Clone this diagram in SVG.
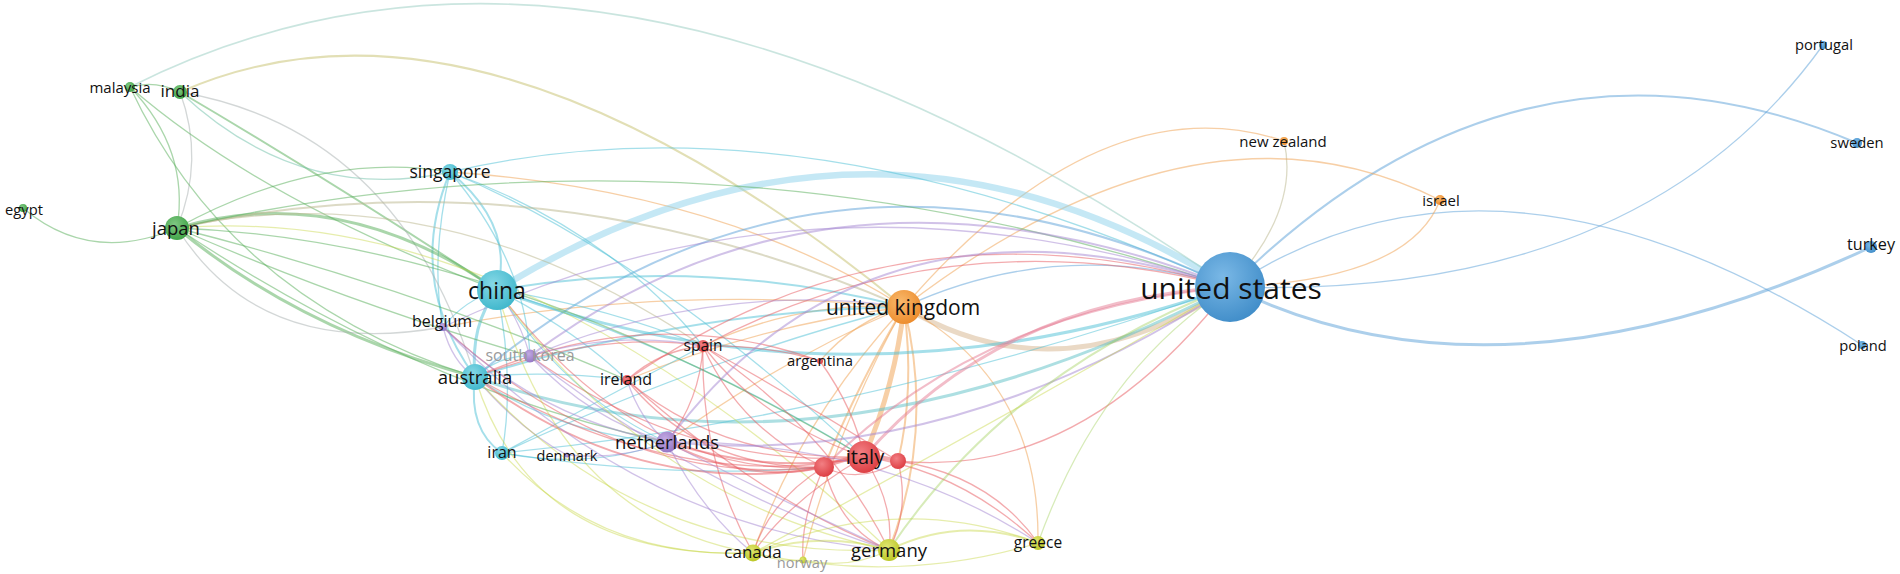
<svg xmlns="http://www.w3.org/2000/svg" width="1900" height="574" viewBox="0 0 1900 574">
<defs>
<radialGradient id="gB" cx="40%" cy="35%" r="70%"><stop offset="0" stop-color="#7ab8e6"/><stop offset="1" stop-color="#3f8cc8"/></radialGradient>
<radialGradient id="gC" cx="40%" cy="35%" r="70%"><stop offset="0" stop-color="#86d8e6"/><stop offset="1" stop-color="#3db6cb"/></radialGradient>
<radialGradient id="gG" cx="40%" cy="35%" r="70%"><stop offset="0" stop-color="#80c783"/><stop offset="1" stop-color="#3da244"/></radialGradient>
<radialGradient id="gO" cx="40%" cy="35%" r="70%"><stop offset="0" stop-color="#f9b96c"/><stop offset="1" stop-color="#ec8a2a"/></radialGradient>
<radialGradient id="gR" cx="40%" cy="35%" r="70%"><stop offset="0" stop-color="#f27f83"/><stop offset="1" stop-color="#dc3b40"/></radialGradient>
<radialGradient id="gP" cx="40%" cy="35%" r="70%"><stop offset="0" stop-color="#c2a9e2"/><stop offset="1" stop-color="#9274c4"/></radialGradient>
<radialGradient id="gY" cx="40%" cy="35%" r="70%"><stop offset="0" stop-color="#e0e670"/><stop offset="1" stop-color="#b9c523"/></radialGradient>
</defs>
<style>
.e{fill:none;stroke-linecap:round;stroke-width:1.3;stroke-opacity:.5}
.b{stroke:#5a9fd8}.c{stroke:#4cbfd6}.g{stroke:#55ad57}.o{stroke:#f0a04e}.r{stroke:#e8575d}.p{stroke:#a386d2}.y{stroke:#c3d43a;stroke-opacity:.42}.t{stroke:#b9b58c}.k{stroke:#a8b0b0}
.w2{stroke-width:2}.w3{stroke-width:3}.w4{stroke-width:4}.w5{stroke-width:5}.w6{stroke-width:6.5}
.l{font-family:"Open Sans","Liberation Sans",sans-serif;fill:#111;text-anchor:middle;dominant-baseline:central}
.f{fill:#9a9a9a}
</style>
<rect width="1900" height="574" fill="#fff"/>
<g id="connectors">
<path class="e b" d="M1230,287 Q1640,300 1823,45"/>
<path class="e b w2" d="M1230,287 Q1520,0 1857,143"/>
<path class="e b" d="M1230,287 Q1500,110 1862,345"/>
<path class="e b w3" d="M1230,287 Q1500,420 1871,247"/>
<path class="e b" d="M904,307 Q1060,235 1230,287"/>
<path class="e o" d="M1230,287 Q1410,280 1440,200"/>
<path class="e t" d="M1230,287 Q1300,210 1284,141"/>
<path class="e o" d="M904,307 Q1100,80 1284,141"/>
<path class="e o" d="M904,307 Q1200,80 1440,200"/>
<path class="e w5" style="stroke:#d6b38c" d="M904,307 Q1060,400 1230,287"/>
<path class="e o w5" d="M904,307 Q895,385 864,457"/>
<path class="e o w2" d="M904,307 Q860,380 824,467"/>
<path class="e o w2" d="M904,307 Q915,390 898,461"/>
<path class="e o w2" d="M904,307 Q935,430 889,550"/>
<path class="e o" d="M904,307 Q800,420 753,553"/>
<path class="e o" d="M904,307 Q1040,380 1038,543"/>
<path class="e o" d="M904,307 Q800,300 703,346"/>
<path class="e o" d="M904,307 Q855,320 820,361"/>
<path class="e o" d="M904,307 Q780,360 667,442"/>
<path class="e o" d="M904,307 Q760,325 627,380"/>
<path class="e o" d="M904,307 Q835,430 803,560"/>
<path class="e o" d="M904,307 Q660,285 443,327"/>
<path class="e o" d="M450,172 Q720,190 904,307"/>
<path class="e w2" style="stroke:#c6bf6c" d="M180,92 Q480,-40 904,307"/>
<path class="e c w6" style="stroke:#8bd2ec" d="M497,290 Q870,60 1230,287"/>
<path class="e c w3" d="M497,290 Q850,420 1230,287"/>
<path class="e c" d="M450,172 Q800,90 1230,287"/>
<path class="e b w2" d="M475,377 Q820,90 1230,287"/>
<path class="e c w3" style="stroke:#5cbfc6" d="M475,377 Q820,500 1230,287"/>
<path class="e c" d="M502,453 Q850,420 1230,287"/>
<path class="e c w2" d="M450,172 Q515,225 497,290"/>
<path class="e c w2" d="M450,172 Q405,280 475,377"/>
<path class="e c" d="M450,172 Q525,260 530,356"/>
<path class="e c" d="M450,172 Q430,260 443,327"/>
<path class="e c" d="M450,172 Q610,230 703,346"/>
<path class="e c" d="M450,172 Q640,250 864,457"/>
<path class="e c w3" d="M497,290 Q470,325 475,377"/>
<path class="e c" d="M497,290 Q515,380 502,453"/>
<path class="e c w2" d="M475,377 Q468,430 502,453"/>
<path class="e c" d="M502,453 Q680,480 824,467"/>
<path class="e c" d="M502,453 Q600,400 703,346"/>
<path class="e c" d="M502,453 Q700,360 904,307"/>
<path class="e c w2" d="M497,290 Q700,255 904,307"/>
<path class="e c w2" d="M475,377 Q690,310 904,307"/>
<path class="e c" d="M475,377 Q550,370 627,380"/>
<path class="e c" d="M497,290 Q575,330 627,380"/>
<path class="e c" d="M497,290 Q600,305 703,346"/>
<path class="e c" d="M475,377 Q560,435 667,442"/>
<path class="e c" d="M497,290 Q570,400 667,442"/>
<path class="e c" d="M497,290 Q690,350 864,457"/>
<path class="e c" d="M502,453 Q590,470 667,442"/>
<path class="e c" d="M475,377 Q500,355 530,356"/>
<path class="e c" d="M497,290 Q465,300 443,327"/>
<path class="e g" d="M23,208 Q90,265 177,228"/>
<path class="e g" d="M130,87 Q190,150 177,228"/>
<path class="e k" d="M180,92 Q205,160 177,228"/>
<path class="e g" d="M130,87 Q155,80 180,92"/>
<path class="e g w2" d="M180,92 Q330,180 497,290"/>
<path class="e c" style="stroke:#6dbfa8" d="M180,92 Q300,205 450,172"/>
<path class="e k" d="M180,92 Q400,130 475,377"/>
<path class="e g" d="M130,87 Q230,300 475,377"/>
<path class="e g" d="M130,87 Q260,200 497,290"/>
<path class="e g w3" d="M177,228 Q340,180 497,290"/>
<path class="e g w3" d="M177,228 Q300,330 475,377"/>
<path class="e g" d="M177,228 Q320,150 450,172"/>
<path class="e k" d="M177,228 Q260,360 443,327"/>
<path class="e g" d="M177,228 Q340,300 530,356"/>
<path class="e g" d="M177,228 Q420,390 667,442"/>
<path class="e t" d="M177,228 Q440,170 703,346"/>
<path class="e g" d="M177,228 Q500,240 864,457"/>
<path class="e t w2" d="M177,228 Q540,150 904,307"/>
<path class="e g" d="M177,228 Q700,110 1230,287"/>
<path class="e y" d="M177,228 Q520,200 889,550"/>
<path class="e g" d="M177,228 Q420,290 627,380"/>
<path class="e" style="stroke:#96cbc0;stroke-width:1.6" d="M130,87 Q600,-150 1230,287"/>
<path class="e r w4" d="M824,467 Q844,458 864,457"/>
<path class="e r w4" d="M864,457 Q880,456 898,461"/>
<path class="e r" d="M824,467 Q860,485 898,461"/>
<path class="e r" d="M703,346 Q760,420 864,457"/>
<path class="e r" d="M703,346 Q740,430 824,467"/>
<path class="e r" d="M627,380 Q720,460 864,457"/>
<path class="e r" d="M627,380 Q700,470 824,467"/>
<path class="e r w2" d="M667,442 Q770,475 864,457"/>
<path class="e r w2" d="M667,442 Q750,485 824,467"/>
<path class="e r w2" d="M475,377 Q640,500 824,467"/>
<path class="e r" d="M475,377 Q680,495 864,457"/>
<path class="e r" d="M497,290 Q640,480 824,467"/>
<path class="e r" d="M443,327 Q620,490 824,467"/>
<path class="e r" d="M530,356 Q690,470 864,457"/>
<path class="e r" d="M864,457 Q895,505 889,550"/>
<path class="e r" d="M824,467 Q840,530 889,550"/>
<path class="e r" d="M898,461 Q910,510 889,550"/>
<path class="e r" d="M864,457 Q790,500 753,553"/>
<path class="e r" d="M824,467 Q770,500 753,553"/>
<path class="e r" d="M864,457 Q960,470 1038,543"/>
<path class="e r" d="M898,461 Q990,475 1038,543"/>
<path class="e r" d="M824,467 Q800,520 803,560"/>
<path class="e r" d="M627,380 Q660,350 703,346"/>
<path class="e r" d="M703,346 Q770,345 820,361"/>
<path class="e r" d="M820,361 Q855,410 864,457"/>
<path class="e r" d="M703,346 Q700,400 667,442"/>
<path class="e r" d="M703,346 Q830,430 889,550"/>
<path class="e r" d="M703,346 Q700,460 753,553"/>
<path class="e r" d="M475,377 Q600,330 703,346"/>
<path class="e r w3" style="stroke:#e67b94" d="M864,457 Q1000,300 1230,287"/>
<path class="e r w2" style="stroke:#e67b94" d="M824,467 Q980,310 1230,287"/>
<path class="e r" d="M898,461 Q1080,480 1230,287"/>
<path class="e r" d="M703,346 Q950,215 1230,287"/>
<path class="e r" d="M627,380 Q900,190 1230,287"/>
<path class="e r" d="M475,377 Q650,300 820,361"/>
<path class="e r" d="M703,346 Q800,400 898,461"/>
<path class="e r" d="M627,380 Q760,500 889,550"/>
<path class="e p w2" d="M667,442 Q870,170 1230,287"/>
<path class="e p w2" d="M667,442 Q950,470 1230,287"/>
<path class="e p w2" d="M530,356 Q830,130 1230,287"/>
<path class="e p" d="M443,327 Q820,150 1230,287"/>
<path class="e p" d="M530,356 Q590,420 667,442"/>
<path class="e p" d="M443,327 Q540,420 667,442"/>
<path class="e p" d="M667,442 Q790,505 889,550"/>
<path class="e p" d="M667,442 Q700,510 753,553"/>
<path class="e p" d="M627,380 Q640,420 667,442"/>
<path class="e p" d="M497,290 Q520,320 530,356"/>
<path class="e p" d="M530,356 Q700,490 889,550"/>
<path class="e p" d="M443,327 Q640,530 889,550"/>
<path class="e p" d="M667,442 Q880,440 1038,543"/>
<path class="e p" d="M567,455 Q620,460 667,442"/>
<path class="e p" d="M475,377 Q520,430 567,455"/>
<path class="e p" d="M530,356 Q620,330 703,346"/>
<path class="e p" d="M530,356 Q720,280 904,307"/>
<path class="e p" d="M443,327 Q452,362 475,377"/>
<path class="e y w2" d="M753,553 Q820,530 889,550"/>
<path class="e y w2" d="M889,550 Q960,515 1038,543"/>
<path class="e y" d="M753,553 Q900,490 1038,543"/>
<path class="e y" d="M753,553 Q900,585 1038,543"/>
<path class="e y" d="M803,560 Q850,570 889,550"/>
<path class="e y" d="M753,553 Q778,562 803,560"/>
<path class="e y" d="M475,377 Q530,560 753,553"/>
<path class="e y" d="M497,290 Q560,520 753,553"/>
<path class="e y" d="M497,290 Q650,500 889,550"/>
<path class="e y" d="M502,453 Q600,560 753,553"/>
<path class="e y" d="M475,377 Q640,560 889,550"/>
<path class="e y w2" style="stroke:#9fcf58" d="M889,550 Q1010,370 1230,287"/>
<path class="e y" style="stroke:#9fcf58" d="M1038,543 Q1100,370 1230,287"/>
<path class="e y" d="M753,553 Q1000,420 1230,287"/>
</g>
<g id="nodes">
<g id="n-united-states"><circle cx="1230" cy="287" r="35" fill="url(#gB)"/><text class="l" x="1231" y="287" font-size="30">united states</text></g>
<g id="n-united-kingdom"><circle cx="904" cy="307" r="17" fill="url(#gO)"/><text class="l" x="903" y="307" font-size="21">united kingdom</text></g>
<g id="n-china"><circle cx="497" cy="290" r="20" fill="url(#gC)"/><text class="l" x="497" y="290" font-size="23">china</text></g>
<g id="n-italy"><circle cx="864" cy="457" r="16" fill="url(#gR)"/><text class="l" x="865" y="456" font-size="20">italy</text></g>
<g id="n-red-2"><circle cx="824" cy="467" r="10" fill="url(#gR)"/></g>
<g id="n-red-3"><circle cx="898" cy="461" r="8" fill="url(#gR)"/></g>
<g id="n-australia"><circle cx="475" cy="377" r="13" fill="url(#gC)"/><text class="l" x="475" y="376" font-size="18.5">australia</text></g>
<g id="n-japan"><circle cx="177" cy="228" r="12" fill="url(#gG)"/><text class="l" x="176" y="227" font-size="18.5">japan</text></g>
<g id="n-netherlands"><circle cx="667" cy="442" r="10.5" fill="url(#gP)"/><text class="l" x="667" y="441" font-size="18.5">netherlands</text></g>
<g id="n-germany"><circle cx="889" cy="550" r="11" fill="url(#gY)"/><text class="l" x="889" y="549" font-size="18.5">germany</text></g>
<g id="n-singapore"><circle cx="450" cy="172" r="8" fill="url(#gC)"/><text class="l" x="450" y="171" font-size="17.5">singapore</text></g>
<g id="n-india"><circle cx="180" cy="92" r="7" fill="url(#gG)"/><text class="l" x="180" y="90" font-size="17">india</text></g>
<g id="n-canada"><circle cx="753" cy="553" r="8.5" fill="url(#gY)"/><text class="l" x="753" y="551" font-size="17">canada</text></g>
<g id="n-greece"><circle cx="1038" cy="543" r="7" fill="url(#gY)"/><text class="l" x="1038" y="542" font-size="15.5">greece</text></g>
<g id="n-iran"><circle cx="502" cy="453" r="7" fill="url(#gC)"/><text class="l" x="502" y="452" font-size="16">iran</text></g>
<g id="n-spain"><circle cx="703" cy="346" r="6" fill="url(#gR)"/><text class="l" x="703" y="345" font-size="15.5">spain</text></g>
<g id="n-ireland"><circle cx="627" cy="380" r="5" fill="url(#gR)"/><text class="l" x="626" y="379" font-size="16">ireland</text></g>
<g id="n-south-korea"><circle cx="530" cy="356" r="6.5" fill="url(#gP)"/><text class="l f" x="530" y="355" font-size="16">south korea</text></g>
<g id="n-belgium"><circle cx="443" cy="327" r="4" fill="url(#gP)"/><text class="l" x="442" y="321" font-size="16">belgium</text></g>
<g id="n-malaysia"><circle cx="130" cy="87" r="5" fill="url(#gG)"/><text class="l" x="120" y="87" font-size="15">malaysia</text></g>
<g id="n-egypt"><circle cx="23" cy="208" r="4" fill="url(#gG)"/><text class="l" x="24" y="209" font-size="14.7">egypt</text></g>
<g id="n-argentina"><circle cx="820" cy="361" r="3" fill="url(#gR)"/><text class="l" x="820" y="360" font-size="14.8">argentina</text></g>
<g id="n-denmark"><circle cx="567" cy="455" r="2.5" fill="url(#gP)"/><text class="l" x="567" y="455" font-size="14.5">denmark</text></g>
<g id="n-norway"><circle cx="803" cy="560" r="3.5" fill="url(#gY)"/><text class="l f" x="802" y="562" font-size="14.6">norway</text></g>
<g id="n-new-zealand"><circle cx="1284" cy="141" r="4" fill="url(#gO)"/><text class="l" x="1283" y="141" font-size="15">new zealand</text></g>
<g id="n-israel"><circle cx="1440" cy="200" r="5" fill="url(#gO)"/><text class="l" x="1441" y="200" font-size="15">israel</text></g>
<g id="n-portugal"><circle cx="1823" cy="45" r="4" fill="url(#gB)"/><text class="l" x="1824" y="44" font-size="14.7">portugal</text></g>
<g id="n-sweden"><circle cx="1857" cy="143" r="5" fill="url(#gB)"/><text class="l" x="1857" y="142" font-size="14.8">sweden</text></g>
<g id="n-turkey"><circle cx="1871" cy="247" r="6" fill="url(#gB)"/><text class="l" x="1871" y="244" font-size="16.2">turkey</text></g>
<g id="n-poland"><circle cx="1862" cy="345" r="4" fill="url(#gB)"/><text class="l" x="1863" y="345" font-size="14.7">poland</text></g>
</g>
</svg>
